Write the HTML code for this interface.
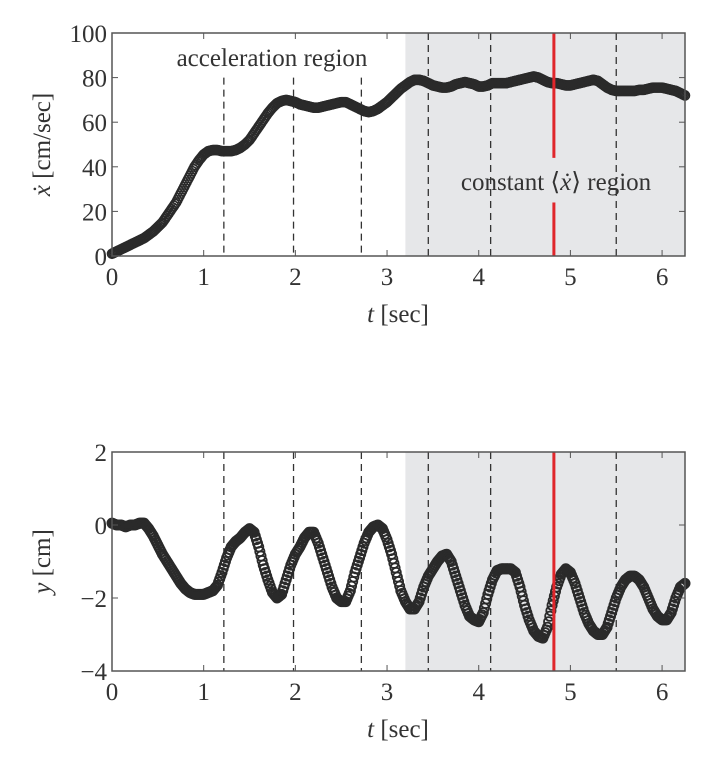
<!DOCTYPE html>
<html><head><meta charset="utf-8"><style>
html,body{margin:0;padding:0;background:#fff;}
svg{display:block;font-family:"Liberation Serif",serif;}
</style></head><body>
<svg id="fig" width="706" height="775" viewBox="0 0 706 775"></svg>
<script>
const times = Array.from({length:126},(_,i)=>+(i*0.05).toFixed(2));
const velocity = [1,2,3,4,5,6,7,8,9.5,11,13,15,18,21,24,28,32,36,40,43,45.5,47,47.5,47.5,47,47,47,47.5,48.5,50,52,55,58,61,64,66.5,68.5,69.5,70,69.5,69,68,67.5,67,66.5,66.5,67,67.5,68,68.5,69,69,68,67,66,65,64.5,65,66,67.5,69,71,73,75,76.5,78,79,79,78.5,77.5,76.5,76,75.5,75.5,76,77,77.5,78,77.5,77,76,76,76.5,77.5,77.5,77.5,77.5,78,78.5,79,79.5,80,80.5,80,79,78,77.5,77.5,77,76.5,76.5,77,77.5,78,78.5,79,78.5,77,75.5,74.5,74,74,74,74,74,74.5,74.5,75,75.5,75.5,75.5,75,74.5,74,73,72];
const lateral = [0.05,0,0,-0.05,0,0,0.05,0.05,-0.1,-0.3,-0.55,-0.8,-1.0,-1.2,-1.4,-1.6,-1.75,-1.85,-1.9,-1.9,-1.9,-1.85,-1.8,-1.65,-1.3,-0.9,-0.6,-0.45,-0.35,-0.2,-0.1,-0.2,-0.6,-1.1,-1.5,-1.85,-2.0,-1.9,-1.5,-1.1,-0.8,-0.6,-0.35,-0.2,-0.2,-0.5,-0.9,-1.3,-1.7,-2.0,-2.1,-2.1,-1.8,-1.3,-0.9,-0.5,-0.2,-0.05,0,-0.1,-0.4,-0.8,-1.3,-1.8,-2.1,-2.3,-2.3,-2.1,-1.7,-1.4,-1.2,-1.0,-0.85,-0.8,-1.0,-1.4,-1.8,-2.2,-2.5,-2.6,-2.65,-2.4,-1.9,-1.5,-1.25,-1.2,-1.2,-1.2,-1.3,-1.7,-2.2,-2.6,-2.9,-3.05,-3.1,-2.8,-2.2,-1.7,-1.35,-1.2,-1.3,-1.6,-2.0,-2.4,-2.7,-2.9,-3.0,-3.0,-2.8,-2.4,-2.0,-1.7,-1.5,-1.4,-1.4,-1.5,-1.7,-2.0,-2.3,-2.5,-2.6,-2.6,-2.4,-2.0,-1.7,-1.6];
const dashTimes = [1.22,1.98,2.72,3.45,4.13,5.5];
const redTime = 4.82;
const shadeStart = 3.2;
const xTicks = [0,1,2,3,4,5,6];
const topYTicks = [0,20,40,60,80,100];
const botYTicks = [-4,-2,0,2];

const NS="http://www.w3.org/2000/svg";
const svg=document.getElementById('fig');
function mk(tag,attrs,parent){const e=document.createElementNS(NS,tag);for(const k in attrs)e.setAttribute(k,attrs[k]);(parent||svg).appendChild(e);return e;}

function panel(cfg){
  const {top,bottom,ymin,ymax,yTicks,ys,name}=cfg;
  const L=112,R=685,xmax=6.25;
  const X=t=>L+(t/xmax)*(R-L);
  const Y=v=>bottom-(v-ymin)/(ymax-ymin)*(bottom-top);
  const g=mk('g',{});
  
  
  const sh=mk('rect',{x:X(shadeStart),y:top,width:R-X(shadeStart),height:bottom-top,fill:'#e6e7e9'},g);
  
  
  dashTimes.forEach((t,i)=>{
    const y0 = (cfg.dashTop && t<shadeStart) ? Y(cfg.dashTop) : top;
    const l=mk('line',{x1:X(t),x2:X(t),y1:y0,y2:bottom,stroke:'#333','stroke-width':1.3,'stroke-dasharray':'7,5'},g);
    
    
  });
  const sg=mk('g',{fill:'none',stroke:'#2a2a2a','stroke-width':cfg.sw},g);
  
  
  const sub=4;
  times.forEach((t,i)=>{
    for(let k=0;k<sub;k++){
      if(k>0 && i===times.length-1) break;
      const f=k/sub;
      const tt= k===0 ? t : t+(times[i+1]-t)*f;
      const vv= k===0 ? ys[i] : ys[i]+(ys[i+1]-ys[i])*f;
      const c=mk('circle',{cx:X(tt),cy:Y(vv),r:4.6},sg);
      
      
    }
  });
  const segs = cfg.redGap ? [[top,Y(cfg.redGap[1])],[Y(cfg.redGap[0]),bottom]] : [[top,bottom]];
  segs.forEach(s=>{
    const r=mk('line',{x1:X(redTime),x2:X(redTime),y1:s[0],y2:s[1],stroke:'#e0262b','stroke-width':3},g);
    
    
  });
  const f=mk('rect',{x:L,y:top,width:R-L,height:bottom-top,fill:'none',stroke:'#555','stroke-width':1.5},g);
  
  
  xTicks.forEach(t=>{
    mk('line',{x1:X(t),x2:X(t),y1:bottom,y2:bottom-6,stroke:'#555'},g);
    mk('line',{x1:X(t),x2:X(t),y1:top,y2:top+6,stroke:'#555'},g);
    const tx=mk('text',{x:X(t),y:bottom+29,'text-anchor':'middle','font-size':25,fill:'#333'},g);
    tx.textContent=t;
    
    
  });
  yTicks.forEach(v=>{
    mk('line',{x1:L,x2:L+6,y1:Y(v),y2:Y(v),stroke:'#555'},g);
    mk('line',{x1:R,x2:R-6,y1:Y(v),y2:Y(v),stroke:'#555'},g);
    const tx=mk('text',{x:L-5,y:Y(v)+9,'text-anchor':'end','font-size':25,fill:'#333'},g);
    tx.textContent=v<0?'\u2212'+(-v):v;
    
    
  });
  const xt=mk('text',{x:398,y:bottom+66,'text-anchor':'middle','font-size':25,fill:'#333'},g);
  xt.innerHTML='<tspan font-style="italic">t</tspan> [sec]';
  
  
  const yt=mk('text',{x:0,y:0,'text-anchor':'middle','font-size':25,fill:'#333',transform:`translate(50,${(top+bottom)/2}) rotate(-90)`},g);
  yt.innerHTML=cfg.ytitle;
  
  
  return {X,Y,g};
}

const p1=panel({name:'velocity',top:33,bottom:256,ymin:0,ymax:100,yTicks:topYTicks,ys:velocity,sw:1.4,dashTop:80,redGap:[24,44],ytitle:'<tspan font-style="italic">ẋ</tspan> [cm/sec]'});
const a=mk('text',{x:272,y:66,'text-anchor':'middle','font-size':25,fill:'#333'},p1.g);
a.textContent='acceleration region';


const c=mk('text',{x:556,y:190,'text-anchor':'middle','font-size':25,fill:'#333'},p1.g);
c.innerHTML='constant ⟨<tspan font-style="italic">ẋ</tspan>⟩ region';



panel({name:'lateral',top:452,bottom:671,ymin:-4,ymax:2,yTicks:botYTicks,ys:lateral,sw:1.8,ytitle:'<tspan font-style="italic">y</tspan> [cm]'});
</script>
</body></html>
